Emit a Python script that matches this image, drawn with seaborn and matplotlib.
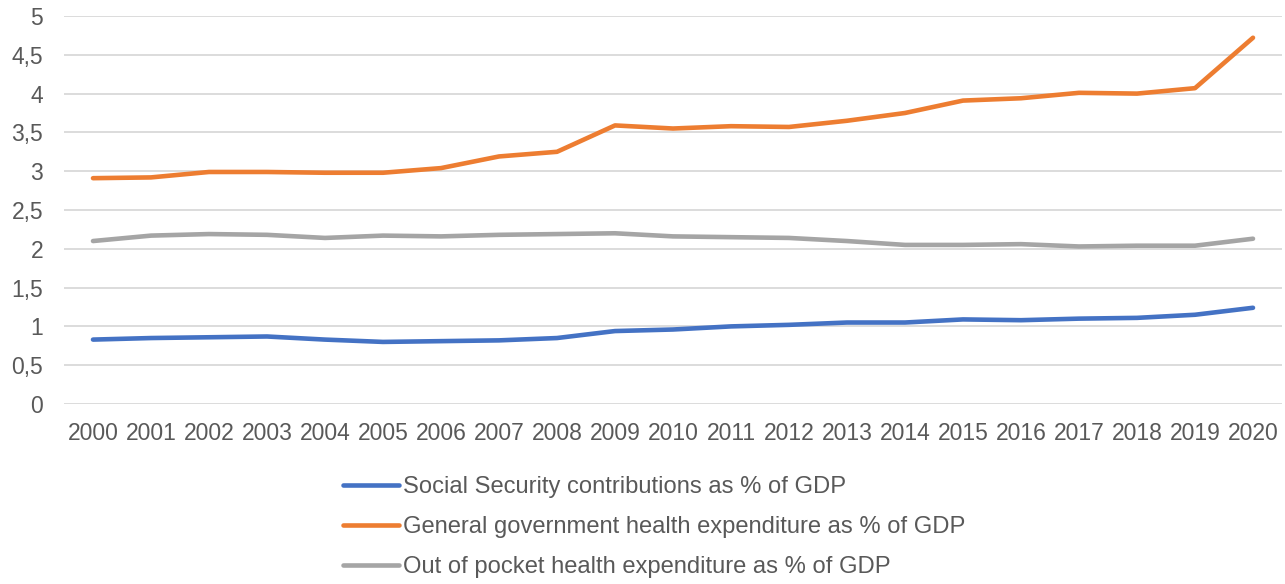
import matplotlib
matplotlib.use('Agg')
import matplotlib.pyplot as plt
import matplotlib.ticker as mticker
import seaborn as sns
import pandas as pd

years = list(range(2000, 2021))

social_security = [0.83, 0.85, 0.86, 0.87, 0.83, 0.80, 0.81, 0.82, 0.85, 0.94, 0.96,
                   1.00, 1.02, 1.05, 1.05, 1.09, 1.08, 1.10, 1.11, 1.15, 1.24]
gov_health = [2.91, 2.92, 2.99, 2.99, 2.98, 2.98, 3.04, 3.19, 3.25, 3.59, 3.55,
              3.58, 3.57, 3.65, 3.75, 3.91, 3.94, 4.01, 4.00, 4.07, 4.72]
out_of_pocket = [2.10, 2.17, 2.19, 2.18, 2.14, 2.17, 2.16, 2.18, 2.19, 2.20, 2.16,
                 2.15, 2.14, 2.10, 2.05, 2.05, 2.06, 2.03, 2.04, 2.04, 2.13]

series_names = ['Social Security contributions as % of GDP',
                'General government health expenditure as % of GDP',
                'Out of pocket health expenditure as % of GDP']
colors = ['#4472C4', '#ED7D31', '#A5A5A5']

# long-form table for seaborn
frames = []
for name, vals in zip(series_names, [social_security, gov_health, out_of_pocket]):
    frames.append(pd.DataFrame({'year': years, 'value': vals, 'series': name}))
df = pd.concat(frames, ignore_index=True)

sns.set_style('white')
plt.rcParams['font.family'] = ['Liberation Sans', 'DejaVu Sans']
text_color = '#595959'
lw = 3.3

fig = plt.figure(figsize=(12.85, 5.84), dpi=100)
ax = fig.add_axes([64 / 1285, 1 - 404 / 584, 1218 / 1285, 388 / 584])

sns.lineplot(data=df, x='year', y='value', hue='series', hue_order=series_names,
             palette=colors, linewidth=lw, ax=ax, legend=False,
             solid_capstyle='round', zorder=3)

ax.set_xlim(1999.5, 2020.5)
ax.set_ylim(0, 5)
ax.set_xticks(years)
ax.set_xticklabels([str(y) for y in years])
ax.set_yticks([0, 0.5, 1, 1.5, 2, 2.5, 3, 3.5, 4, 4.5, 5])
ax.yaxis.set_major_formatter(mticker.FuncFormatter(
    lambda v, p: ('%g' % v).replace('.', ',')))
ax.grid(axis='y', color='#D9D9D9', linewidth=1.3, zorder=0)
ax.grid(axis='x', visible=False)
for s in ax.spines.values():
    s.set_visible(False)
ax.set_xlabel('')
ax.set_ylabel('')
ax.tick_params(axis='both', length=0, labelsize=16.5, colors=text_color)
ax.tick_params(axis='x', pad=13)
ax.tick_params(axis='y', pad=15)

handles = [plt.Line2D([0], [0], color=c, linewidth=lw, solid_capstyle='round')
           for c in colors]
leg = fig.legend(handles, series_names, loc='upper left',
                 bbox_to_anchor=(343 / 1285, 1 - 476 / 584), frameon=False,
                 fontsize=17.1, handlelength=2.35, handletextpad=0.17,
                 labelspacing=0.76, borderpad=0, borderaxespad=0)
for t in leg.get_texts():
    t.set_color(text_color)

fig.savefig('out.png', dpi=100)
